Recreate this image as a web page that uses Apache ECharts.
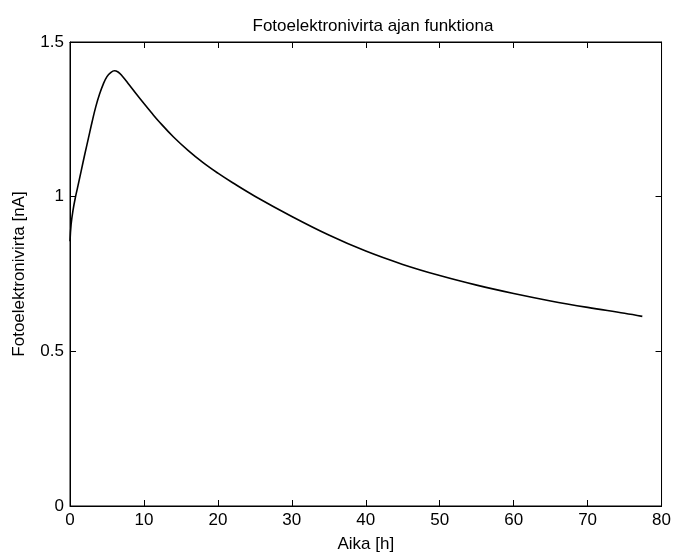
<!DOCTYPE html>
<html>
<head>
<meta charset="utf-8">
<script src="https://cdn.jsdelivr.net/npm/echarts@6/dist/echarts.min.js"></script>
<style>html,body{margin:0;padding:0;background:#fff}#c{width:674px;height:558px}</style>
</head>
<body>
<div id="c"></div>
<script>
var timeH = [0, 0.15, 0.4, 0.75, 1, 1.5, 2, 2.5, 3, 3.5, 4, 4.5, 5, 5.5, 6, 6.5, 7, 8, 9, 10, 11, 12, 14, 16, 18, 20, 22, 25, 30, 35, 40, 45, 50, 55, 60, 65, 70, 75, 77.4];
var current = [0.856, 0.91, 0.955, 1.0, 1.027, 1.082, 1.137, 1.19, 1.243, 1.292, 1.332, 1.364, 1.388, 1.401, 1.407, 1.403, 1.392, 1.362, 1.331, 1.301, 1.272, 1.244, 1.193, 1.149, 1.11, 1.076, 1.045, 1.0015, 0.936, 0.876, 0.824, 0.781, 0.745, 0.714, 0.687, 0.663, 0.642, 0.623, 0.613];
var xTicks = [0, 80, 10];
var yTicks = [0, 1.5, 0.5];

var data = timeH.map(function (t, i) { return [t, current[i]]; });
var font = 'Liberation Sans, Arial, Helvetica, sans-serif';
var chart = echarts.init(document.getElementById('c'));
function axLine() { return { show: true, onZero: false, lineStyle: { color: '#000', width: 1 } }; }
function tickIn() { return { show: true, inside: true, length: 6, lineStyle: { color: '#000', width: 1 } }; }
chart.setOption({
  animation: false,
  backgroundColor: '#fff',
  title: {
    text: 'Fotoelektronivirta ajan funktiona',
    left: 368, top: 13, textAlign: 'center',
    textStyle: { fontFamily: font, fontSize: 17, fontWeight: 'normal', color: '#000' }
  },
  grid: { left: 70, right: 8, top: 42, bottom: 48, show: true, borderColor: '#000', borderWidth: 1, backgroundColor: 'transparent' },
  xAxis: [{
    type: 'value', min: xTicks[0], max: xTicks[1], interval: xTicks[2],
    name: 'Aika [h]', nameLocation: 'middle', nameGap: 30,
    nameTextStyle: { fontFamily: font, fontSize: 17, color: '#000' },
    axisLine: axLine(), axisTick: tickIn(), splitLine: { show: false },
    axisLabel: { fontFamily: font, fontSize: 17, color: '#000', margin: 6 }
  }, {
    type: 'value', position: 'top', min: xTicks[0], max: xTicks[1], interval: xTicks[2],
    axisLine: axLine(), axisTick: tickIn(), splitLine: { show: false }, axisLabel: { show: false }
  }],
  yAxis: [{
    type: 'value', min: yTicks[0], max: yTicks[1], interval: yTicks[2],
    name: 'Fotoelektronivirta [nA]', nameLocation: 'middle', nameGap: 42,
    nameTextStyle: { fontFamily: font, fontSize: 17, color: '#000' },
    axisLine: axLine(), axisTick: tickIn(), splitLine: { show: false },
    axisLabel: { fontFamily: font, fontSize: 17, color: '#000', margin: 6,
      formatter: function (v) { return String(v); } }
  }, {
    type: 'value', position: 'right', min: yTicks[0], max: yTicks[1], interval: yTicks[2],
    axisLine: axLine(), axisTick: tickIn(), splitLine: { show: false }, axisLabel: { show: false }
  }],
  series: [{
    type: 'line', data: data, smooth: 0.4, showSymbol: false,
    lineStyle: { color: '#000', width: 1.6 }
  }]
});
</script>
</body>
</html>
